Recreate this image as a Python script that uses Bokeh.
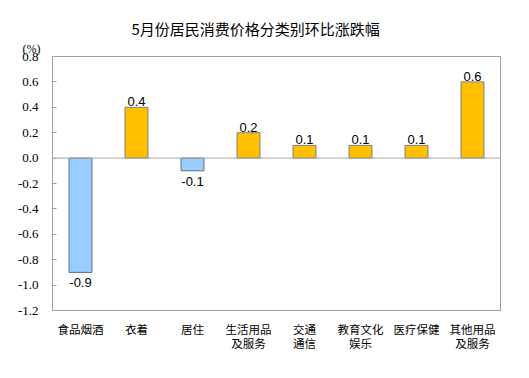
from bokeh.plotting import figure
from bokeh.models import ColumnDataSource, FixedTicker, NumeralTickFormatter, Span, LabelSet, Range1d, FactorRange, Title
from bokeh.core.properties import value
from bokeh.embed import file_html
from bokeh.resources import INLINE

categories = ["食品烟酒", "衣着", "居住", "生活用品\n及服务", "交通\n通信", "教育文化\n娱乐", "医疗保健", "其他用品\n及服务"]
values = [-0.9, 0.4, -0.1, 0.2, 0.1, 0.1, 0.1, 0.6]
value_labels = ["-0.9", "0.4", "-0.1", "0.2", "0.1", "0.1", "0.1", "0.6"]
y_ticks = [-1.2, -1.0, -0.8, -0.6, -0.4, -0.2, 0.0, 0.2, 0.4, 0.6, 0.8]
title_text = "5月份居民消费价格分类别环比涨跌幅"
unit_text = "(%)"

POS_COLOR = "#FFC000"
NEG_COLOR = "#99CCFF"

colors = [POS_COLOR if v >= 0 else NEG_COLOR for v in values]
lines = ["#7f7f7f" if v >= 0 else "#5f6f85" for v in values]

pos_idx = [i for i, v in enumerate(values) if v >= 0]
neg_idx = [i for i, v in enumerate(values) if v < 0]

src = ColumnDataSource(dict(cat=categories, val=values, color=colors, line=lines, lab=value_labels))
pos_src = ColumnDataSource(dict(cat=[categories[i] for i in pos_idx], val=[values[i] for i in pos_idx], lab=[value_labels[i] for i in pos_idx]))
neg_src = ColumnDataSource(dict(cat=[categories[i] for i in neg_idx], val=[values[i] for i in neg_idx], lab=[value_labels[i] for i in neg_idx]))

W, H = 521, 370
L, R, T, B = 52, 21, 56, 60
Y0, Y1 = -1.2, 0.8
p = figure(width=W, height=H, x_range=FactorRange(*categories, range_padding=0),
           y_range=Range1d(Y0, Y1), output_backend="svg", toolbar_location=None,
           min_border_left=L, min_border_right=R, min_border_top=T, min_border_bottom=B)

p.vbar(x="cat", top="val", bottom=0, width=0.41, source=src, fill_color="color",
       line_color="line", line_width=1)

p.add_layout(Span(location=0, dimension="width", line_color="#a6a6a6", line_width=1))

p.add_layout(LabelSet(x="cat", y="val", text="lab", source=pos_src, text_align="center",
                      text_baseline="bottom", y_offset=1, text_font=value("Liberation Sans"),
                      text_font_size="13px", text_color="#000000"))
p.add_layout(LabelSet(x="cat", y="val", text="lab", source=neg_src, text_align="center",
                      text_baseline="top", y_offset=-6, text_font=value("Liberation Sans"),
                      text_font_size="13px", text_color="#000000"))

p.xgrid.visible = False
p.ygrid.visible = False
p.outline_line_color = "#a0a0a0"
p.outline_line_width = 1

p.yaxis.ticker = FixedTicker(ticks=y_ticks)
p.yaxis.formatter = NumeralTickFormatter(format="0.0")
p.yaxis.major_tick_in = 4
p.yaxis.major_tick_out = 0
p.yaxis.minor_tick_line_color = None
p.yaxis.axis_line_color = "#a0a0a0"
p.yaxis.major_tick_line_color = "#a0a0a0"
p.yaxis.major_label_text_font = "Liberation Serif"
p.yaxis.major_label_text_font_size = "13px"
p.yaxis.major_label_text_color = "#000000"
p.yaxis.major_label_standoff = 14

p.xaxis.major_tick_line_color = None
p.xaxis.minor_tick_line_color = None
p.xaxis.axis_line_color = "#a0a0a0"
p.xaxis.major_label_text_font = "Noto Sans CJK SC"
p.xaxis.major_label_text_font_size = "11.5px"
p.xaxis.major_label_text_color = "#000000"
p.xaxis.major_label_text_line_height = 0.9
p.xaxis.major_label_standoff = 4
p.xaxis.major_label_orientation = "horizontal"

# titles: the first one added sits nearest the frame
unit_title = Title(text=unit_text, align="left", offset=22 - L, standoff=2,
                   text_font="Liberation Serif", text_font_size="12px",
                   text_font_style="normal", text_color="#000000")
main_title = Title(text=title_text, align="left", offset=131 - L, standoff=0,
                   text_font="Noto Sans CJK SC", text_font_size="15px",
                   text_font_style="normal", text_color="#000000")
p.add_layout(unit_title, "above")
p.add_layout(main_title, "above")

open("out.html", "w").write(file_html(p, INLINE))
